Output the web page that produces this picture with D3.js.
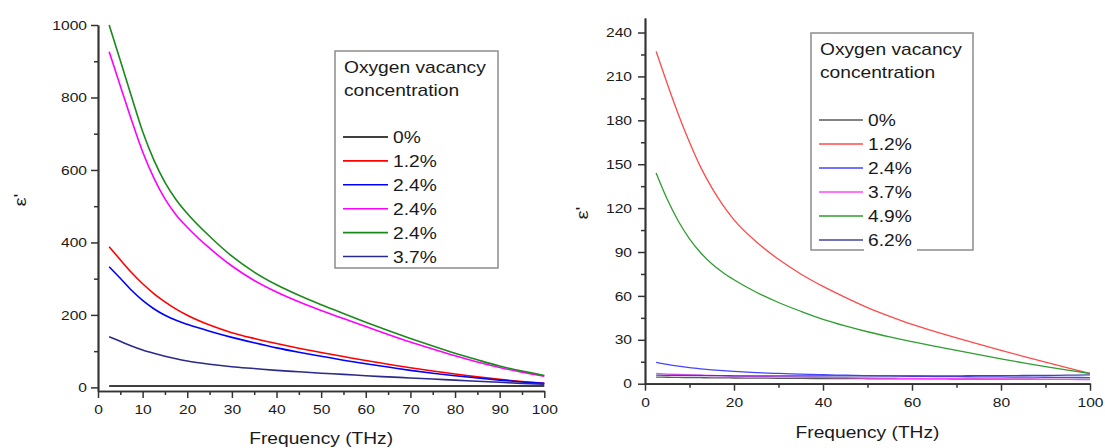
<!DOCTYPE html>
<html>
<head>
<meta charset="utf-8">
<script src="https://cdn.jsdelivr.net/npm/d3@7"></script>
<style>
  html, body { margin: 0; padding: 0; background: #fff; }
  svg { display: block; }
  text { font-family: "Liberation Sans", Arial, Helvetica, sans-serif; fill: #1a1a1a; }
</style>
</head>
<body>
<svg id="chart" width="1105" height="448"></svg>
<script>
// ---------- data ----------
const freq = [2.5, 5, 7.5, 10, 12.5, 15, 17.5, 20, 25, 30, 35, 40, 45, 50, 55, 60, 65, 70, 75, 80, 85, 90, 95, 100];

// Left panel
const leftLabels = ["0%", "1.2%", "2.4%", "2.4%", "2.4%", "3.7%"];
const leftColors = ["#000000", "#ff0000", "#0000ff", "#ff00ff", "#1a8a1a", "#2a2a8a"];
const left0   = [4,4,4,4,4,4,4,4,4,4,4,4,4,4,4,4,4,4,4,4,4,4,4,4];
const left12  = [388,352,317,286,259,236,216,199,172,151,135,121,108,96,85,74,64,54,45,37,29,22,16,11];
const left24a = [333,301,268,240,217,199,185,174,155,138,123,109,97,86,75,65,56,47,39,32,26,20,15,11];
const left24b = [926,832,738,650,578,520,476,442,384,335,295,263,236,212,190,168,146,125,106,87,70,55,42,31];
const left24c = [1000,902,803,706,628,566,518,480,417,362,318,283,254,228,204,180,157,135,114,94,76,59,45,33];
const left37  = [140,127,114,103,94,86,79,73,64,57,52,47,43,39,36,32,29,26,23,20,17,14,11,9];
const leftSeries = [left0, left12, left24a, left24b, left24c, left37];
const leftYTicks = [0, 200, 400, 600, 800, 1000];
const leftYMinor = [100, 300, 500, 700, 900];
const leftXTicks = [0, 10, 20, 30, 40, 50, 60, 70, 80, 90, 100];
const leftXMinor = [5, 15, 25, 35, 45, 55, 65, 75, 85, 95];

// Right panel
const rightLabels = ["0%", "1.2%", "2.4%", "3.7%", "4.9%", "6.2%"];
const rightColors = ["#5a5a5a", "#ff4a4a", "#4545ff", "#ff45ff", "#2e9e2e", "#4545a5"];
const right0  = [4.5,4.4,4.3,4.2,4.1,4.0,4.0,3.9,3.8,3.7,3.6,3.5,3.5,3.4,3.4,3.3,3.3,3.2,3.2,3.1,3.1,3.0,3.0,3.0];
const right12 = [227,205,184,165,148,134,122,112,97,85,75,66.5,59,52,46,40.5,35.8,31.3,27,22.8,18.7,14.7,10.8,7];
const right24 = [14.6,13.2,12,11,10.2,9.5,8.9,8.4,7.6,7,6.5,6.1,5.8,5.5,5.3,5.1,4.9,4.8,4.7,4.6,4.5,4.4,4.3,4.2];
const right37 = [7,6.6,6.3,6,5.8,5.6,5.4,5.2,4.9,4.7,4.5,4.3,4.1,3.9,3.8,3.6,3.5,3.4,3.3,3.2,3.1,3,2.9,2.8];
const right49 = [144,126,111,99,89.5,82,76,71,62.5,55.5,49.5,44,39.5,35.5,32,28.8,25.7,22.7,19.8,17,14.3,11.7,9.3,7];
const right62 = [5.8,5.7,5.7,5.6,5.6,5.5,5.5,5.4,5.4,5.3,5.3,5.3,5.3,5.3,5.3,5.3,5.4,5.4,5.5,5.5,5.6,5.7,5.8,6];
const rightSeries = [right0, right12, right24, right37, right49, right62];
const rightYTicks = [0, 30, 60, 90, 120, 150, 180, 210, 240];
const rightYMinor = [15, 45, 75, 105, 135, 165, 195, 225];
const rightXTicks = [0, 20, 40, 60, 80, 100];
const rightXMinor = [10, 30, 50, 70, 90];

const legendTitle = ["Oxygen vacancy", "concentration"];
const xTitle = "Frequency (THz)";
const yTitle = "ε'";

// ---------- helpers ----------
const SX = 1.2; // horizontal text stretch of the source image
const svg = d3.select("#chart");

function stretchText(sel) {
  sel.each(function() {
    const t = d3.select(this);
    const x = parseFloat(t.attr("x")) || 0;
    t.attr("x", x / SX).attr("transform", `scale(${SX},1)`);
  });
}

function freeText(g, x, y, str, size, anchor, rotate) {
  const tr = `translate(${x},${y})` + (rotate ? ` rotate(${rotate})` : "") + ` scale(${SX},1)`;
  return g.append("text").attr("transform", tr)
    .attr("text-anchor", anchor || "start")
    .style("font-size", size + "px").text(str);
}

function panel(cfg) {
  const g = svg.append("g");
  const x = d3.scaleLinear().domain([0, 100]).range([cfg.x0, cfg.x1]);
  const y = d3.scaleLinear().domain(cfg.yDomain).range([cfg.yBottom, cfg.yTop]);

  // lines
  const line = d3.line().x((d, i) => x(freq[i])).y(d => y(d)).curve(d3.curveMonotoneX);
  cfg.series.forEach((s, i) => {
    g.append("path").datum(s).attr("d", line)
      .attr("fill", "none").attr("stroke", cfg.colors[i])
      .attr("stroke-width", cfg.lw).attr("stroke-linejoin", "round");
  });

  // axes
  const axisColor = "#333";
  const yAx = g.append("g").attr("transform", `translate(${cfg.x0},0)`)
    .call(d3.axisLeft(y).tickValues(cfg.yTicks).tickFormat(d3.format("d")).tickSizeInner(7).tickSizeOuter(0).tickPadding(cfg.yPad));
  const yMin = g.append("g").attr("transform", `translate(${cfg.x0},0)`)
    .call(d3.axisLeft(y).tickValues(cfg.yMinor).tickFormat("").tickSizeInner(4).tickSizeOuter(0));
  const xAx = g.append("g").attr("transform", `translate(0,${cfg.yBottom})`)
    .call(d3.axisBottom(x).tickValues(cfg.xTicks).tickFormat(d3.format("d")).tickSizeInner(7).tickSizeOuter(0).tickPadding(7));
  const xMin = g.append("g").attr("transform", `translate(0,${cfg.yBottom})`)
    .call(d3.axisBottom(x).tickValues(cfg.xMinor).tickFormat("").tickSizeInner(4).tickSizeOuter(0));
  [yAx, yMin, xAx, xMin].forEach(a => {
    a.select(".domain").attr("stroke", axisColor).attr("stroke-width", 1.7);
    a.selectAll(".tick line").attr("stroke", axisColor).attr("stroke-width", 1.5);
    a.selectAll("text").style("font-size", "13px").style("font-family", null).attr("fill", "#1a1a1a");
    stretchText(a.selectAll("text"));
  });

  // axis titles
  freeText(g, (cfg.x0 + cfg.x1) / 2, cfg.xTitleY, xTitle, 16, "middle");
  freeText(g, cfg.yTitleX, cfg.yTitleY, yTitle, 17, "middle", -90);

  // legend
  const L = cfg.legend;
  g.append("rect").attr("x", L.x).attr("y", L.y).attr("width", L.w).attr("height", L.h)
    .attr("fill", "#fff").attr("stroke", "#8c8c8c").attr("stroke-width", 1.5);
  freeText(g, L.tx, L.t1, legendTitle[0], 16, "start");
  freeText(g, L.tx, L.t2, legendTitle[1], 16, "start");
  cfg.labels.forEach((lab, i) => {
    const yy = L.e0 + i * L.step;
    g.append("line").attr("x1", L.lx0).attr("x2", L.lx1).attr("y1", yy).attr("y2", yy)
      .attr("stroke", cfg.colors[i]).attr("stroke-width", cfg.lw);
    if (L.maskLast && i === cfg.labels.length - 1) {
      g.append("rect").attr("x", L.lx1 + 1).attr("y", yy - 8).attr("width", 53).attr("height", 20).attr("fill", "#fff");
    }
    freeText(g, L.lx1 + 5, yy + 6, lab, 16, "start");
  });
}

panel({
  x0: 98, x1: 544.3, yDomain: [-10, 1000], yBottom: 391, yTop: 25,
  series: leftSeries, colors: leftColors, labels: leftLabels, lw: 1.6,
  yTicks: leftYTicks, yMinor: leftYMinor, xTicks: leftXTicks, xMinor: leftXMinor,
  yPad: 4, xTitleY: 444, yTitleX: 26, yTitleY: 200,
  legend: { x: 335, y: 51, w: 163, h: 217, tx: 344, t1: 73, t2: 96,
            lx0: 343, lx1: 388, e0: 137, step: 23.9 }
});

panel({
  x0: 645, x1: 1090, yDomain: [0, 250], yBottom: 383.7, yTop: 17.9,
  series: rightSeries, colors: rightColors, labels: rightLabels, lw: 1.3,
  yTicks: rightYTicks, yMinor: rightYMinor, xTicks: rightXTicks, xMinor: rightXMinor,
  yPad: 6, xTitleY: 438, yTitleX: 588, yTitleY: 213,
  legend: { x: 811, y: 33, w: 162, h: 217, tx: 820, t1: 55, t2: 78,
            lx0: 819, lx1: 863, e0: 120, step: 24, maskLast: true }
});
</script>
</body>
</html>
